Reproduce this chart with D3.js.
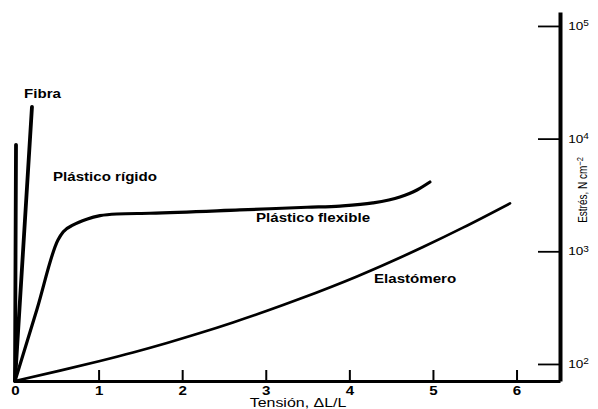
<!DOCTYPE html>
<html>
<head>
<meta charset="utf-8">
<script src="https://cdn.jsdelivr.net/npm/d3@7"></script>
<style>
  html, body { margin: 0; padding: 0; background: #fff; }
  svg { display: block; }
  text { font-family: "Liberation Sans", Arial, Helvetica, sans-serif; fill: #000; }
</style>
</head>
<body>
<svg id="chart" width="598" height="409"></svg>
<script>
// Tick marks for both axes
const strainTicks = [0, 1, 2, 3, 4, 5, 6];
const stressTicks = [1e2, 1e3, 1e4, 1e5];
const stressExponents = ["2", "3", "4", "5"];

// Stress–strain curves (strain ΔL/L, stress N cm⁻²)
const fibraStrain = [0, 0.203];
const fibraStress = [70.6, 19100];

const rigidoStrain = [0, 0.012];
const rigidoStress = [70.6, 8800];

const flexibleStrain = [0, 0.263, 0.514, 0.578, 0.697, 0.858, 1.017, 1.217, 1.615, 2.691, 3.493, 3.888, 4.282, 4.605, 4.809, 4.964];
const flexibleStress = [70.6, 306, 1262, 1493, 1713, 1924, 2071, 2143, 2176, 2328, 2460, 2520, 2687, 3035, 3500, 4120];

const elastomeroStrain = [0, 0.538, 1.017, 1.412, 1.818, 2.213, 2.608, 3.015, 3.409, 4.091, 4.881, 5.359, 5.922];
const elastomeroStress = [70.6, 87.2, 106.3, 126.5, 153.6, 188.1, 233.6, 296.1, 378.4, 598, 1091, 1621, 2662];

// Curve labels
const labelNames = ["Fibra", "Plástico rígido", "Plástico flexible", "Elastómero"];

const svg = d3.select("#chart");
const STRETCH = 1.26; // wide lettering

const x = d3.scaleLinear().domain([0, 6.52]).range([15, 560]);
const y = d3.scaleLog().domain([70.6, 133000]).range([381, 12]);

const zip = (xs, ys) => xs.map((v, i) => [v, ys[i]]);

const straight = d3.line().x(d => x(d[0])).y(d => y(d[1]));
const smooth = d3.line().x(d => x(d[0])).y(d => y(d[1])).curve(d3.curveMonotoneX);

const curves = [
  { pts: zip(rigidoStrain, rigidoStress), gen: straight, w: 3.8 },
  { pts: zip(fibraStrain, fibraStress), gen: straight, w: 3.8 },
  { pts: zip(flexibleStrain, flexibleStress), gen: smooth, w: 3.2 },
  { pts: zip(elastomeroStrain, elastomeroStress), gen: smooth, w: 2.7 }
];

svg.append("g").selectAll("path").data(curves).join("path")
  .attr("d", d => d.gen(d.pts))
  .attr("fill", "none")
  .attr("stroke", "#000")
  .attr("stroke-width", d => d.w)
  .attr("stroke-linecap", "round")
  .attr("stroke-linejoin", "round");

// Bottom axis (strain)
const xAxis = d3.axisBottom(x)
  .tickValues(strainTicks)
  .tickFormat(d3.format("d"))
  .tickSizeInner(-11)
  .tickSizeOuter(0)
  .tickPadding(5);

const gx = svg.append("g").attr("transform", "translate(0,381)").call(xAxis);
gx.select(".domain").attr("stroke", "#000").attr("stroke-width", 3);
gx.selectAll(".tick line").attr("stroke", "#000").attr("stroke-width", 2)
  .attr("display", d => d === 0 ? "none" : null);
gx.selectAll(".tick text")
  .attr("font-size", 12).attr("font-weight", "bold")
  .attr("font-family", "Liberation Sans, Arial, sans-serif")
  .attr("transform", `scale(${STRETCH},1)`);

// Right axis (stress, log)
const yAxis = d3.axisRight(y)
  .tickValues(stressTicks)
  .tickFormat(() => "")
  .tickSizeInner(-22)
  .tickSizeOuter(0)
  .tickPadding(7);

const gy = svg.append("g").attr("transform", "translate(560,0)").call(yAxis);
gy.select(".domain").attr("stroke", "#000").attr("stroke-width", 4);
gy.selectAll(".tick line").attr("stroke", "#000").attr("stroke-width", 1.8);
gy.selectAll(".tick text")
  .attr("font-size", 11.5)
  .attr("font-family", "Liberation Sans, Arial, sans-serif")
  .attr("transform", "scale(1.18,1)")
  .each(function(d, i) {
    const t = d3.select(this);
    t.text("10");
    t.append("tspan").attr("dy", "-0.45em").attr("font-size", 8.5).text(stressExponents[i]);
  });

// Axis titles
svg.append("text")
  .attr("transform", `translate(298,407) scale(1.33,1)`)
  .attr("text-anchor", "middle")
  .attr("font-size", 12)
  .text("Tensión, ΔL/L");

const yTitle = svg.append("text")
  .attr("transform", "translate(587,190) rotate(-90) scale(1,1.2)")
  .attr("text-anchor", "middle")
  .attr("font-size", 10);
yTitle.append("tspan").text("Estrés, N cm");
yTitle.append("tspan").attr("dy", "-0.5em").attr("font-size", 7.5).text("−2");

// Curve labels
const labelPos = [[24, 98], [53, 181], [256, 222], [374, 283]];
svg.append("g").selectAll("text").data(labelNames).join("text")
  .attr("transform", (d, i) => `translate(${labelPos[i][0]},${labelPos[i][1]}) scale(${STRETCH},1)`)
  .attr("font-size", 12)
  .attr("font-weight", "bold")
  .text(d => d);
</script>
</body>
</html>
